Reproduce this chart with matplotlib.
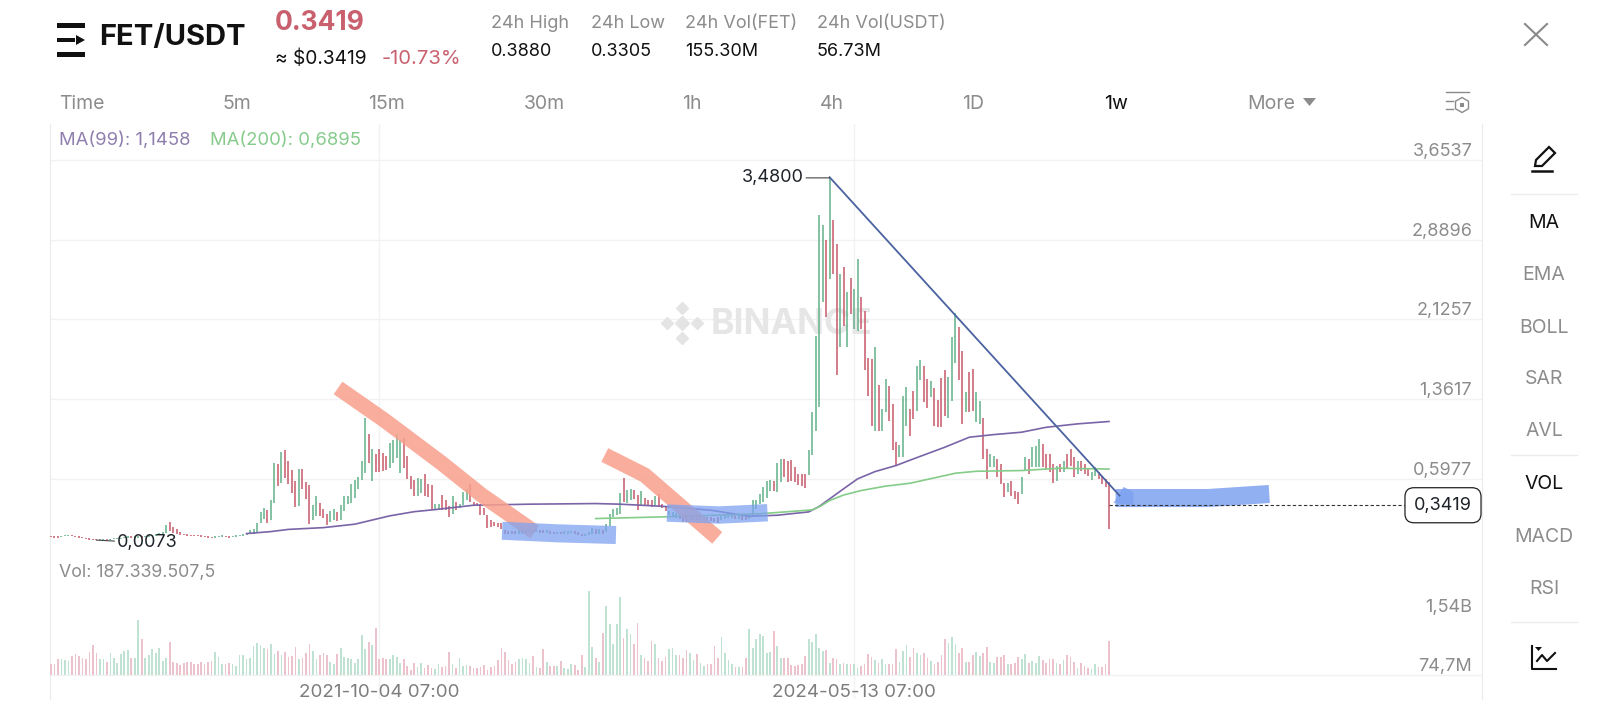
import numpy as np
import pandas as pd
import matplotlib
matplotlib.use('Agg')
import matplotlib.pyplot as plt
from matplotlib.lines import Line2D
from matplotlib.patches import Polygon, Rectangle, RegularPolygon
from matplotlib.transforms import Affine2D, blended_transform_factory

plt.rcParams['font.family'] = ['Inter', 'DejaVu Sans']

# weekly bars
lows = [
    .036, .032, .028, .038, .042, .044, .042, .036, .030, .024,
    .018, .012, .010, .0073, .010, .012, .012, .012, .014, .018,
    .020, .026, .030, .032, .030, .032, .030, .034, .038, .042,
    .048, .056, .065, .080, .095, .080, .064, .057,
    .055, .05, .048, .045, .042, .04, .035, .03, .025, .03,
    .035, .038, .035, .032, .035, .04, .045, .05, .06,
    .072, .07, .089, .176, .208, .169, .198, .368, .528, .56,
    .608, .55, .464, .329, .336, .496, .406, .166, .198, .24,
    .24, .224, .153, .185, .198, .192, .198, .288, .358, .368,
    .416, .496, .582, .656, .752, .576, .665, .665, .672, .678,
    .697, .752, .8, .656, .704, .592, .496, .432, .432, .464,
    .432, .422, .304, .294, .294,
    .294, .294, .23, .262, .294, .32, .342, .39, .374, .342,
    .332, .246, .246, .128, .134, .14, .134, .118, .07, .07,
    .064, .07, .07, .07, .076, .086, .076, .086, .08, .076,
    .076, .07, .064, .064, .064, .07, .07, .076, .07, .054,
    .044, .051, .054, .064, .07, .07, .07, .086, .141, .23,
    .246, .256, .374, .364, .39, .406, .30, .342, .332, .332,
    .326, .332, .326, .32, .288, .246, .23, .224, .214, .182,
    .182, .198, .204, .204, .204, .204, .198, .192, .182, .172,
    .198, .214, .224, .224, .214, .214, .204, .204, .208, .23,
    .31, .358, .374, .416, .48, .48, .47, .566, .614, .566,
    .572, .566, .534, .524, .512, .63,
    .828, 1.052, 1.289, 2.291, 2.153, 2.515, 2.563, 1.596, 1.859, 2.067,
    1.859, 2.179, 2.035, 2.019, 2.035, 1.644, 1.395, 1.107, 1.059, 1.052,
    1.059, 1.235, 1.155, .873, .723, .803, .809, 1.107, 1.011, 1.171,
    1.244, 1.545, 1.331, 1.276, 1.379, 1.107, 1.091, 1.091, 1.203, 1.18,
    1.347, 1.708, 1.545, 1.123, 1.235, 1.235, 1.251, 1.139, 1.123, .787,
    .595, .707, .713, .611, .547, .425, .467, .435, .403, .355,
    .451, .675, .643, .707, .707, .707, .707, .691, .659, .553,
    .579, .659, .659, .701, .723, .611, .637, .675, .643, .627,
    .585, .627, .595, .547, .515, .115,
]
highs = [
    .050, .044, .042, .050, .054, .056, .054, .050, .044, .036,
    .032, .024, .020, .018, .020, .022, .020, .022, .024, .028,
    .032, .038, .044, .046, .044, .046, .044, .050, .054, .056,
    .064, .075, .085, .150, .180, .137, .110, .086,
    .07, .065, .06, .06, .056, .055, .05, .045, .04, .042,
    .05, .052, .05, .046, .05, .055, .06, .065, .08,
    .102, .11, .176, .281, .32, .294, .39, .752, .736, .857,
    .87, .768, .681, .576, .694, .688, .569, .537, .345, .432,
    .368, .304, .262, .288, .304, .281, .345, .432, .432, .544,
    .582, .614, .768, 1.184, 1.024, .88, .838, .88, .848, .816,
    .944, .966, 1.024, .966, .985, .816, .624, .582, .608, .592,
    .64, .544, .537, .352, .352,
    .438, .39, .332, .428, .374, .358, .47, .502, .544, .374,
    .364, .352, .32, .246, .198, .182, .176, .172, .102, .096,
    .096, .096, .102, .102, .108, .118, .108, .118, .102, .102,
    .102, .096, .086, .086, .086, .092, .092, .096, .096, .083,
    .064, .07, .086, .128, .118, .118, .108, .166, .262, .31,
    .316, .46, .608, .486, .502, .492, .438, .48, .416, .396,
    .39, .428, .448, .352, .332, .288, .278, .268, .256, .246,
    .236, .236, .246, .246, .236, .236, .23, .23, .224, .23,
    .246, .262, .268, .256, .246, .246, .236, .236, .246, .39,
    .39, .448, .518, .576, .582, .572, .748, .79, .79, .768,
    .78, .71, .64, .646, .646, .876,
    1.235, 1.971, 3.123, 3.027, 2.883, 3.484, 3.081, 2.851, 2.563, 2.633,
    2.387, 2.524, 2.419, 2.707, 2.345, 2.211, 1.756, 1.747, 1.859, 1.5,
    1.267, 1.555, 1.491, 1.315, .947, .924, 1.395, 1.475, 1.267, 1.443,
    1.676, 1.737, 1.676, 1.555, 1.532, 1.468, 1.353, 1.564, 1.641, 1.571,
    1.961, 2.185, 2.051, 1.827, 1.427, 1.619, 1.651, 1.427, 1.347, 1.18,
    .883, .835, .819, .787, .739, .553, .553, .579, .483, .467,
    .617, .803, .787, .905, .915, .979, .931, .835, .835, .739,
    .723, .739, .771, .835, .883, .803, .764, .771, .739, .691,
    .659, .707, .659, .627, .595, .563,
]
dirs = ("rrrgggrrrr" "rrrrggrggg" "gggrggrggg" "ggggrrrr"
        "rrrrrrrrrgggrrggggg"
        "gggggrggrg" "rrrrgrrrgg" "rrrggrgggg" "ggggrgrrrr" "ggggrrrrgg" "rrrgg"
        "rrrgrgggrr" "rrrrrrrrrr" "rrggggrgrr" "grrgrgggrr" "rgggrgrggg"
        "ggrggrrgrr" "rgrrrgggrr" "rggrggrrrr" "ggggrgrrgg" "gggggrggrr" "rrrrrg"
        "ggggrgrrgr" "grggrrrrgr" "ggrrrgggrr" "ggrrgrrrrg" "ggrrgrrggr"
        "rggrrrgrrr" "ggrgggrrrr" "grgrrrgrrr" "ggrrrr")

# volume in millions
volume = [
    327, 327, 453, 453, 428, 411, 537, 579, 537, 495,
    453, 646, 814, 621, 453, 453, 394, 621, 495, 369,
    579, 663, 680, 478, 478, 1436, 957, 478, 562, 705,
    621, 730, 411, 495, 881, 394, 369, 310, 352, 377,
    377, 327, 327, 394, 327, 394, 411, 646, 512, 327,
    344, 352, 327, 285, 562, 562, 453, 495, 789, 873,
    814, 730, 705, 831, 579, 663, 562, 646, 512, 537,
    764, 453, 478, 621, 831, 663, 453, 562, 621, 562,
    394, 327, 596, 730, 512, 495, 453, 369, 453, 1066,
    705, 890, 814, 1251, 453, 495, 453, 453, 562, 512,
    369, 453, 285, 176, 369, 260, 369, 226, 310, 226,
    201, 327, 260, 285, 646, 327, 226, 495, 285, 310,
    285, 243, 243, 260, 310, 176, 260, 285, 428, 730,
    646, 428, 344, 394, 453, 478, 453, 369, 537, 260,
    226, 705, 394, 285, 285, 285, 411, 226, 201, 327,
    310,
    176, 562, 260, 2175, 764, 478, 394, 1125, 1797, 1335,
    831, 1335, 2024, 982, 1209, 1083, 831, 1360, 562, 495,
    411, 915, 831, 495, 411, 512, 705, 730, 562, 562,
    478, 688, 621, 428, 579, 352, 285, 344, 327, 789,
    478, 1016, 621, 428, 344, 268, 268, 268, 478, 1217,
    730, 957, 1100, 1041, 621, 646, 1167, 797, 495, 495,
    495, 302, 293, 302, 327, 537, 957, 890, 1083, 747,
    663, 680, 369, 495, 453, 344, 352, 327, 327, 327,
    243, 285, 327, 579, 512, 428, 369, 453, 327, 327, 327,
    705, 394, 663, 814, 512, 730, 621, 562, 621, 495,
    411, 327, 394, 562, 965, 856, 1016, 848, 621, 730,
    394, 394, 554, 646, 537, 621, 764, 394, 369, 512,
    520, 562, 327, 327, 369, 512, 453, 596, 369, 411,
    369, 537, 436, 369, 470, 470, 352, 327, 428, 562,
    512, 386, 243, 352, 285, 226, 201, 344, 260, 260,
    327, 915,
]

ma99_x = [56, 63, 68, 78, 87, 97, 104, 110, 121, 137, 156, 163, 175, 189, 200, 208, 217, 220, 223, 227,
          231, 236, 242, 247, 256, 263, 270, 278, 285, 294, 303]
ma99_v = [.07, .089, .11, .127, .16, .24, .28, .30, .342, .352, .358, .352, .332, .294, .236, .246, .278, .33, .403, .5,
          .595, .665, .723, .787, .899, .995, 1.02, 1.043, 1.09, 1.123, 1.1458]
ma200_x = [156, 175, 203, 218, 220.5, 223, 227, 232, 239, 246, 259, 265, 278, 289, 303]
ma200_v = [.214, .23, .26, .297, .335, .387, .44, .483, .525, .553, .649, .668, .675, .697, .6895]

price_ticks = [3.6537, 2.8896, 2.1257, 1.3617, 0.5977]
vol_ticks = [1540, 74.7]
vol_labels = ['1,54B', '74,7M']
date_ticks = [pd.Timestamp('2021-10-04'), pd.Timestamp('2024-05-13')]
last_price = 0.3419

# hand drawn marks on top of the chart
orange1_x = [82.2, 95.4, 111.8, 123.3, 138.5]
orange1_y = [1.468, 1.16, .748, .44, .085]
orange2_x = [158.6, 170, 181.6, 190.8]
orange2_y = [.824, .632, .296, .028]
blue1_x = [129.2, 145.3, 161.8]
blue1_y = [.097, .072, .056]
blue2_x = [176.4, 191.4, 205.2]
blue2_y = [.267, .248, .27]
blue3_x = [304.9, 331.3, 348.9]
blue3_y = [.411, .411, .45]
arrow_x = [304.3, 307.2, 310, 310]
arrow_y = [.363, .517, .47, .345]
trend_x = [223, 306]
trend_y = [3.49, .435]

GREEN = '#67b48d'
RED = '#c8606f'
VGREEN = '#bfe2d3'
VRED = '#ecc3cc'
GRID = '#f2f2f2'
GRAY = '#8c8c8c'
DARK = '#1e2329'

W, H = 1600, 720
fig = plt.figure(figsize=(W / 100, H / 100), dpi=100, facecolor='white')
px = Affine2D().scale(1 / W, -1 / H).translate(0, 1) + fig.transFigure


def rect(x0, y0, x1, y1):
    return [x0 / W, 1 - y1 / H, (x1 - x0) / W, (y1 - y0) / H]


def T(x, y, s, color=GRAY, size=13, ha='left', **kw):
    fig.text(x / W, 1 - (y + 2.5) / H, s, color=color, fontsize=size, ha=ha, va='center', **kw)


ax = fig.add_axes(rect(50, 124, 1482, 558))
vax = fig.add_axes(rect(50, 558, 1482, 699), sharex=ax)

n = len(lows)
x = np.arange(n)
lows = np.array(lows)
highs = np.array(highs)
up = np.array([c == 'g' for c in dirs])
dates = pd.date_range('2019-12-16', periods=n, freq='7D')
dx = (1109 - 51) / (n - 1)
tick_x = [int(np.where(dates == d)[0][0]) for d in date_ticks]

# price panel
ax.vlines(x, lows, highs, colors=np.where(up, GREEN, RED), lw=1.15, zorder=3)
ax.plot(ma99_x, ma99_v, color='#7a64a8', lw=1.2, zorder=4)
ax.plot(ma200_x, ma200_v, color='#84cc88', lw=1.2, zorder=4)

ax.set_xlim(-1 / dx, -1 / dx + (1482 - 50) / dx)
ax.set_ylim(.5977 - (558 - 478.6) * .0096, 3.6537 + (160.2 - 124) * .0096)

ax.plot(orange1_x, orange1_y, color='#f8a08c', alpha=.85, lw=11, solid_capstyle='butt', zorder=5)
ax.plot(orange2_x, orange2_y, color='#f8a08c', alpha=.85, lw=11, solid_capstyle='butt', zorder=5)
ax.plot(blue1_x, blue1_y, color='#7ea2ef', alpha=.75, lw=13, solid_capstyle='butt', zorder=6)
ax.plot(blue2_x, blue2_y, color='#7ea2ef', alpha=.75, lw=12.5, solid_capstyle='butt', zorder=6)
ax.plot(blue3_x, blue3_y, color='#7ea2ef', alpha=.85, lw=13, solid_capstyle='butt', zorder=6)
ax.add_patch(Polygon(np.column_stack([arrow_x, arrow_y]), color='#7ea2ef', alpha=.85, lw=0, zorder=6))
ax.plot(trend_x, trend_y, color='#4a62a0', lw=1.3, zorder=7)

ax.hlines(last_price, n - 1, ax.get_xlim()[1] - 76 / dx, color='#333333', lw=.8, ls=(0, (3, 2)), zorder=8)
lab_tr = blended_transform_factory(ax.transAxes, ax.transData)
ax.text((1472 - 50) / 1432, last_price, '0,3419', transform=lab_tr, ha='right', va='center',
        fontsize=13, color=DARK, zorder=9,
        bbox=dict(boxstyle='round,pad=0.5', fc='white', ec='#222222', lw=.9))

imax = int(np.argmax(highs))
imin = int(np.argmin(lows))
ax.annotate('3,4800', xy=(imax, highs[imax]), xytext=(-19, 0), textcoords='offset points',
            ha='right', va='center', fontsize=13, color=DARK, zorder=9,
            arrowprops=dict(arrowstyle='-', color='#444444', lw=.8, shrinkA=0, shrinkB=0))
ax.annotate('0,0073', xy=(imin, lows[imin]), xytext=(15, -2), textcoords='offset points',
            ha='left', va='center', fontsize=13, color=DARK, zorder=9,
            arrowprops=dict(arrowstyle='-', color='#444444', lw=.8, shrinkA=0, shrinkB=0))

ax.set_yticks(price_ticks)
ax.set_yticklabels([f'{v:.4f}'.replace('.', ',') for v in price_ticks])
ax.yaxis.tick_right()
ax.tick_params(axis='y', length=0, pad=-7, labelcolor=GRAY, labelsize=13)
for lab in ax.get_yticklabels():
    lab.set_ha('right')
    lab.set_va('bottom')
ax.set_xticks(tick_x)
ax.tick_params(axis='x', length=0, labelbottom=False)
ax.grid(True, color=GRID, lw=1)
ax.set_axisbelow(True)
for s in ['bottom', 'left', 'right']:
    ax.spines[s].set_color('#ececec')
ax.spines['top'].set_visible(False)

# faint watermark under the bars
ax.text(711, 325, 'BINANCE', transform=px, color='#e6e6e6', fontsize=25.5, fontweight='bold',
        va='center', ha='left', zorder=1)
ax.plot([682], [323], 'D', transform=px, color='#e4e4e4', ms=7, zorder=1)
ax.plot([667, 697, 682, 682], [323, 323, 308, 338], 'D', transform=px, color='#e4e4e4', ms=6.5, zorder=1)
ax.set_xlim(-1 / dx, -1 / dx + (1482 - 50) / dx)
ax.set_ylim(.5977 - (558 - 478.6) * .0096, 3.6537 + (160.2 - 124) * .0096)

# volume panel
vx = np.arange(len(volume))
vax.bar(vx, np.array(volume) - 74.7, bottom=74.7, width=1.7 / dx,
        color=np.where(up[:len(volume)], VGREEN, VRED), lw=0, zorder=3)
vax.set_ylim(74.7 - 24.5 * 25.1, 74.7 + 116.5 * 25.1)
vax.set_yticks(vol_ticks)
vax.set_yticklabels(vol_labels)
vax.yaxis.tick_right()
vax.tick_params(axis='y', length=0, pad=-7, labelcolor=GRAY, labelsize=13)
for lab in vax.get_yticklabels():
    lab.set_ha('right')
    lab.set_va('bottom')
vax.set_xticks(tick_x)
vax.set_xticklabels([dates[i].strftime('%Y-%m-%d 07:00') for i in tick_x])
vax.tick_params(axis='x', length=0, pad=-5, labelcolor='#7d7d7d', labelsize=13.5)
for lab in vax.get_xticklabels():
    lab.set_va('center')
vax.grid(True, axis='x', color=GRID, lw=1)
vax.axhline(74.7, color=GRID, lw=1, zorder=1)
vax.set_axisbelow(True)
vax.spines['top'].set_visible(False)
vax.spines['bottom'].set_visible(False)
vax.spines['left'].set_color('#ececec')
vax.spines['right'].set_color('#ececec')

# header
fig.add_artist(Rectangle((57, 23), 28, 5, transform=px, color='#111111', lw=0))
fig.add_artist(Rectangle((57, 37.5), 18, 4.5, transform=px, color='#111111', lw=0))
fig.add_artist(Polygon([(76, 35), (85, 40), (76, 45)], transform=px, color='#111111', lw=0))
fig.add_artist(Rectangle((57, 51.5), 28, 5, transform=px, color='#111111', lw=0))
T(99, 34.5, 'FET/USDT', color='#111111', size=21, fontweight='bold')
T(275, 20.5, '0.3419', color='#c9606e', size=19, fontweight='bold')
T(275, 56.5, '≈ $0.3419', color='#111111', size=13.8)
T(382, 56.5, '-10.73%', color='#c9606e', size=14.5)
for hx, head, val in [(491, '24h High', '0.3880'), (591, '24h Low', '0.3305'),
                      (685, '24h Vol(FET)', '155.30M'), (817, '24h Vol(USDT)', '56.73M')]:
    T(hx, 21, head, size=13)
    T(hx, 48.5, val, color='#111111', size=13)
for tx, lab in [(59, 'Time'), (222, '5m'), (368, '15m'), (524, '30m'), (682, '1h'), (820, '4h'), (962, '1D'), (1247, 'More')]:
    T(tx, 101.5, lab, size=14)
T(1104, 101.5, '1w', color='#111111', size=14)
fig.add_artist(Polygon([(1303, 98), (1316, 98), (1309.5, 106)], transform=px, color=GRAY, lw=0))
T(59, 138, 'MA(99): 1,1458', color='#8f7fae', size=13.3)
T(210, 138, 'MA(200): 0,6895', color='#86cb8b', size=13.3)
T(59, 569.5, 'Vol: 187.339.507,5', size=12.8)

# close cross and settings icon
for a, b in [((1525, 24), (1547, 45)), ((1547, 24), (1525, 45))]:
    fig.add_artist(Line2D([a[0], b[0]], [a[1], b[1]], transform=px, color='#8a8a8a', lw=1.5))
for x0, x1, yy in [(1446, 1469, 91.5), (1446, 1453, 101), (1446, 1453, 109)]:
    fig.add_artist(Line2D([x0, x1], [yy, yy], transform=px, color='#8a8a8a', lw=1))
fig.add_artist(RegularPolygon((1462, 105), 6, radius=7.5, transform=px, fc='white', ec='#8a8a8a', lw=1))
fig.add_artist(Rectangle((1460, 103), 4, 4, transform=px, color='#8a8a8a', lw=0))

# right side menu
for my, lab, col in [(220, 'MA', '#111111'), (272.5, 'EMA', GRAY), (325, 'BOLL', GRAY), (377, 'SAR', GRAY),
                     (429, 'AVL', GRAY), (481.5, 'VOL', '#111111'), (534.5, 'MACD', GRAY), (586.5, 'RSI', GRAY)]:
    T(1544, my, lab, color=col, size=14, ha='center')
for my in [194, 455, 622]:
    fig.add_artist(Line2D([1511, 1577], [my, my], transform=px, color='#ececec', lw=1))

# pencil
fig.add_artist(Polygon([(1536, 160), (1549, 147), (1555, 153), (1542, 166), (1535, 166)], closed=True,
                       transform=px, fc='white', ec='#111111', lw=1.6))
fig.add_artist(Line2D([1532, 1552], [170.5, 170.5], transform=px, color='#111111', lw=1.8))
# line chart icon
fig.add_artist(Line2D([1532, 1532, 1556], [646, 669, 669], transform=px, color='#111111', lw=1.5))
fig.add_artist(Line2D([1537, 1542, 1547, 1555], [661, 655, 661, 653], transform=px, color='#111111', lw=1.5))
fig.add_artist(Polygon([(1535, 647), (1542, 647), (1538.5, 651)], transform=px, color='#111111', lw=0))

fig.savefig('out.png', dpi=100)
